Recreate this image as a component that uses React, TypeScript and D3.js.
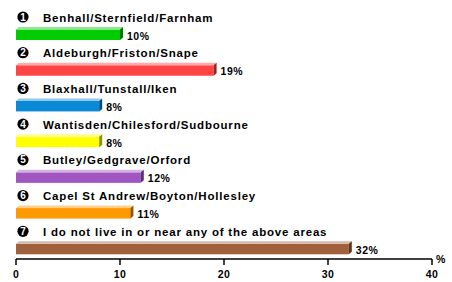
import React from 'react'
import * as d3 from 'd3'

const categories = [
  'Benhall/Sternfield/Farnham',
  'Aldeburgh/Friston/Snape',
  'Blaxhall/Tunstall/Iken',
  'Wantisden/Chilesford/Sudbourne',
  'Butley/Gedgrave/Orford',
  'Capel St Andrew/Boyton/Hollesley',
  'I do not live in or near any of the above areas',
]
const values = [10, 19, 8, 8, 12, 11, 32]
const colors = ['#00cc00', '#ff4444', '#0a8ad6', '#ffff00', '#a055c0', '#ff9900', '#a0603c']
const xTicks = [0, 10, 20, 30, 40]

const width = 452
const height = 282
const font = "'Liberation Sans', Arial, sans-serif"

export default function App() {
  const x = d3.scaleLinear().domain([0, 40]).range([16, 432])
  const y = d3.scaleBand<string>().domain(categories).range([4, 254])
  const axisY = 259
  const depthX = 3
  const depthY = 2.5

  return (
    <svg width={width} height={height} style={{ position: 'absolute', left: 0, top: 0, background: '#fff' }}
      fontFamily={font} fontWeight="bold">
      {categories.map((c, i) => {
        const top = y(c)!
        const x0 = x(0)
        const x1 = x(values[i])
        const bTop = top + 25.5
        const bBot = top + 36
        const base = d3.color(colors[i])!
        const light = d3.interpolateRgb(colors[i], '#ffffff')(0.55)
        const dark = base.darker(1.6).toString()
        return (
          <g key={c}>
            {/* numbered badge */}
            <circle cx={23} cy={top + 13} r={5.6} fill="#000" />
            <text x={23} y={top + 16.6} fontSize={10} fill="#fff" textAnchor="middle">{i + 1}</text>
            <text x={43} y={top + 17.5} fontSize={11.5} letterSpacing={0.8} fill="#000">{c}</text>
            {/* 3d bar: front, top, side */}
            <rect x={x0} y={bTop} width={x1 - x0} height={bBot - bTop} fill={colors[i]} />
            <polygon
              points={`${x0},${bTop} ${x1},${bTop} ${x1 + depthX},${bTop - depthY} ${x0 + depthX},${bTop - depthY}`}
              fill={light} />
            <polygon
              points={`${x1},${bTop} ${x1 + depthX},${bTop - depthY} ${x1 + depthX},${bBot - depthY} ${x1},${bBot}`}
              fill={dark} />
            <text x={x1 + 7} y={bBot - 0.5} fontSize={10.5} letterSpacing={0.5} fill="#000">{values[i]}%</text>
          </g>
        )
      })}
      <line x1={x(0)} x2={x(40)} y1={axisY} y2={axisY} stroke="#000" strokeWidth={1.5} />
      {xTicks.map(t => (
        <g key={t}>
          <line x1={x(t)} x2={x(t)} y1={axisY} y2={axisY + 6} stroke="#000" strokeWidth={1.5} />
          <text x={x(t)} y={277.5} fontSize={10.5} letterSpacing={0.3} textAnchor="middle" fill="#000">{t}</text>
        </g>
      ))}
      <text x={436} y={263} fontSize={10.5} fill="#000">%</text>
    </svg>
  )
}
